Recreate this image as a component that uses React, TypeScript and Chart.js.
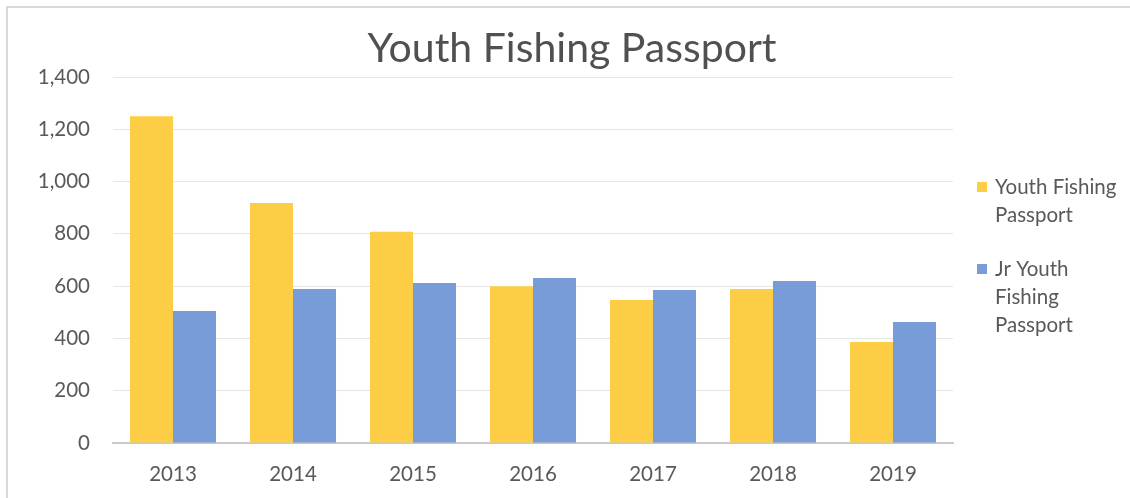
import React, { useEffect, useRef } from "react";
import { Chart, registerables } from "chart.js";

Chart.register(...registerables);

const TITLE = "Youth Fishing Passport";
const YEARS = ["2013", "2014", "2015", "2016", "2017", "2018", "2019"];
const YOUTH = [1250, 918, 808, 600, 547, 589, 386];
const JR_YOUTH = [505, 589, 612, 631, 585, 620, 463];
const SERIES_LABELS = ["Youth Fishing Passport", "Jr Youth Fishing Passport"];
const LEGEND_LINES = [["Youth Fishing", "Passport"], ["Jr Youth", "Fishing", "Passport"]];
const Y_TICKS = [0, 200, 400, 600, 800, 1000, 1200, 1400];

const FONT = "Lato, 'Open Sans', sans-serif";
const TEXT = "#595959";
const COLORS = ["#FDCE45", "#789CD8"];

const decorPlugin = {
  id: "decor",
  beforeDraw(chart: any) {
    const ctx = chart.ctx;
    ctx.save();
    ctx.strokeStyle = "#d9d9d9";
    ctx.lineWidth = 2;
    ctx.strokeRect(7, 7, chart.width + 20, chart.height + 20);
    ctx.restore();
  },
  afterDraw(chart: any) {
    const ctx = chart.ctx;
    ctx.save();
    ctx.fillStyle = "#505050";
    ctx.font = `41px ${FONT}`;
    ctx.textAlign = "center";
    ctx.textBaseline = "alphabetic";
    ctx.fillText(TITLE, 572, 62);
    // legend
    ctx.font = `20.5px ${FONT}`;
    ctx.textAlign = "left";
    ctx.textBaseline = "middle";
    const starts = [187, 269];
    chart.data.datasets.forEach((ds: any, i: number) => {
      const y0 = starts[i];
      ctx.fillStyle = ds.backgroundColor;
      ctx.fillRect(977, y0 - 5, 10, 10);
      ctx.fillStyle = TEXT;
      LEGEND_LINES[i].forEach((line, j) => {
        ctx.fillText(line, 995, y0 + j * 28);
      });
    });
    ctx.restore();
  },
};

export default function App() {
  const ref = useRef<HTMLCanvasElement>(null);
  useEffect(() => {
    document.body.style.margin = "0";
    const chart = new Chart(ref.current!, {
      type: "bar",
      data: {
        labels: YEARS,
        datasets: [
          { label: SERIES_LABELS[0], data: YOUTH, backgroundColor: COLORS[0], categoryPercentage: 0.717, barPercentage: 1 },
          { label: SERIES_LABELS[1], data: JR_YOUTH, backgroundColor: COLORS[1], categoryPercentage: 0.717, barPercentage: 1 },
        ],
      },
      options: {
        animation: false,
        responsive: false,
        maintainAspectRatio: false,
        layout: { padding: { left: 0, right: 177, top: 77, bottom: 0 } },
        plugins: { legend: { display: false }, title: { display: false }, tooltip: { enabled: false } },
        scales: {
          x: {
            grid: { display: false, drawTicks: false },
            border: { display: true, color: "#c8c8c8", width: 2 },
            ticks: { color: TEXT, font: { family: FONT, size: 20.5 }, padding: 19 },
            afterFit(scale: any) { scale.height = 55; },
          },
          y: {
            min: 0,
            max: 1400,
            afterBuildTicks(scale: any) { scale.ticks = Y_TICKS.map((v) => ({ value: v })); },
            grid: { color: "#e6e6e6", lineWidth: 1, drawTicks: false },
            border: { display: false },
            ticks: {
              color: TEXT,
              font: { family: FONT, size: 20.5 },
              padding: 23,
              callback: (v: any) => Number(v).toLocaleString("en-US"),
            },
            afterFit(scale: any) { scale.width = 113; },
          },
        },
      },
      plugins: [decorPlugin],
    });
    return () => chart.destroy();
  }, []);
  return <canvas ref={ref} width={1130} height={498} style={{ display: "block" }} />;
}
